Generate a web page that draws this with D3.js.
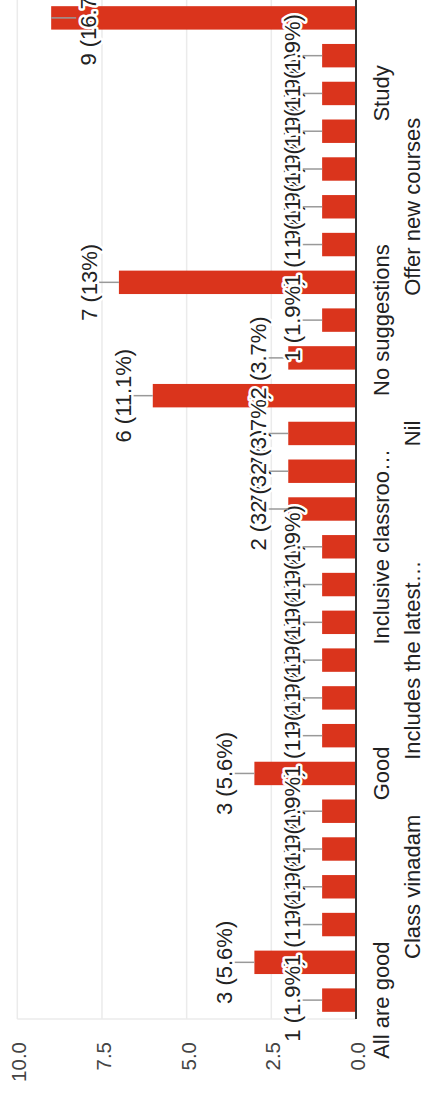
<!DOCTYPE html>
<html><head><meta charset="utf-8">
<script src="https://cdn.jsdelivr.net/npm/d3@7"></script>
<style>html,body{margin:0;padding:0;background:#fff;} svg{display:block;}</style>
</head><body><div id="chart"></div>
<script>
// Data (alphabetical answer categories, response counts)
const categories = [
  "All are good", "All good", "Best",
  "Class vinadam", "Excellent", "Fine",
  "Good", "Good teaching", "Improve facilities",
  "Includes the latest…", "Includes updated syllabus", "Inclusion of practicals",
  "Inclusive classroo…", "Interactive sessions", "More activities",
  "Nil", "No", "No comments",
  "No suggestions", "Nothing", "Nothing to say",
  "Offer new courses", "Practical classes", "Skill development",
  "Study", "Teaching is good", "Very good"
];
const counts = [
  1, 3, 1,
  1, 1, 1,
  3, 1, 1,
  1, 1, 1,
  1, 2, 2,
  2, 6, 2,
  1, 7, 1,
  1, 1, 1,
  1, 1, 9
];
const valueTicks = [0, 2.5, 5, 7.5, 10];
const tickLabels = ["0.0", "2.5", "5.0", "7.5", "10.0"];

const W = 423, H = 1094;
const barColor = "#da341c";
const font = "Arial, 'Liberation Sans', sans-serif";

const svg = d3.select("#chart").append("svg")
  .attr("width", W).attr("height", H)
  .attr("viewBox", `0 0 ${W} ${H}`);

// Chart is drawn as a normal column chart then rotated -90deg
const g = svg.append("g").attr("transform", `translate(0,${H}) rotate(-90)`);

const plotLeft = 75, plotRight = 1095;
const x = d3.scaleBand().domain(categories).range([plotLeft, plotRight])
  .paddingInner(0.38).paddingOuter(0.19);
const y = d3.scaleLinear().domain([0, 10]).range([356, 17.3]);

const total = d3.sum(counts);
const pct = v => {
  const p = Math.round(v / total * 1000) / 10;
  return `${v} (${p}%)`;
};

// gridlines
g.append("g").selectAll("line").data(valueTicks).join("line")
  .attr("x1", plotLeft).attr("x2", H + 5)
  .attr("y1", d => y(d)).attr("y2", d => y(d))
  .attr("stroke", "#ebebeb").attr("stroke-width", 1.5);
g.append("line")
  .attr("x1", plotLeft).attr("x2", plotLeft)
  .attr("y1", y(10)).attr("y2", y(0))
  .attr("stroke", "#ebebeb").attr("stroke-width", 1.5);

// tick labels
g.append("g").selectAll("text").data(valueTicks).join("text")
  .attr("x", 52).attr("y", d => y(d)).attr("dy", "0.44em")
  .attr("text-anchor", "end")
  .attr("font-family", font).attr("font-size", 20.5).attr("fill", "#444")
  .text((d, i) => tickLabels[i]);

// bars
g.append("g").selectAll("rect").data(categories).join("rect")
  .attr("x", d => x(d)).attr("width", x.bandwidth())
  .attr("y", (d, i) => y(counts[i]))
  .attr("height", (d, i) => y(0) - y(counts[i]))
  .attr("fill", barColor);

// baseline
g.append("line")
  .attr("x1", plotLeft).attr("x2", H + 5)
  .attr("y1", y(0)).attr("y2", y(0))
  .attr("stroke", "#333").attr("stroke-width", 2);

// category labels (every third, staggered in two rows)
g.append("g").selectAll("text")
  .data(categories.map((c, i) => ({c, i})).filter(d => d.i % 3 === 0))
  .join("text")
  .attr("x", d => x(d.c) + x.bandwidth() / 2)
  .attr("y", d => (d.i / 3) % 2 === 0 ? 389 : 419.5)
  .attr("text-anchor", "middle")
  .attr("font-family", font).attr("font-size", 22).attr("fill", "#222")
  .text(d => d.c);

// annotations
const annFont = 22, stem = 20, capH = 0.72 * annFont;
const ann = g.append("g");
categories.forEach((c, i) => {
  const v = counts[i];
  const cx = x(c) + x.bandwidth() / 2;
  const top = y(v);
  const inside = top - stem - 2 - capH < y(10);
  const sEnd = inside ? top + 25 : top - stem;
  const base = inside ? top + 45 : top - stem - 2;
  ann.append("line")
    .attr("x1", cx).attr("x2", cx).attr("y1", top).attr("y2", sEnd)
    .attr("stroke", "#999").attr("stroke-width", 1.5);
  ann.append("text")
    .attr("x", cx).attr("y", base).attr("text-anchor", "middle")
    .attr("font-family", font).attr("font-size", annFont)
    .attr("fill", "#fff").attr("stroke", "#fff").attr("stroke-width", 5)
    .attr("stroke-linejoin", "round")
    .text(pct(v));
  ann.append("text")
    .attr("x", cx).attr("y", base).attr("text-anchor", "middle")
    .attr("font-family", font).attr("font-size", annFont)
    .attr("fill", "#222")
    .text(pct(v));
});
</script>
</body></html>
